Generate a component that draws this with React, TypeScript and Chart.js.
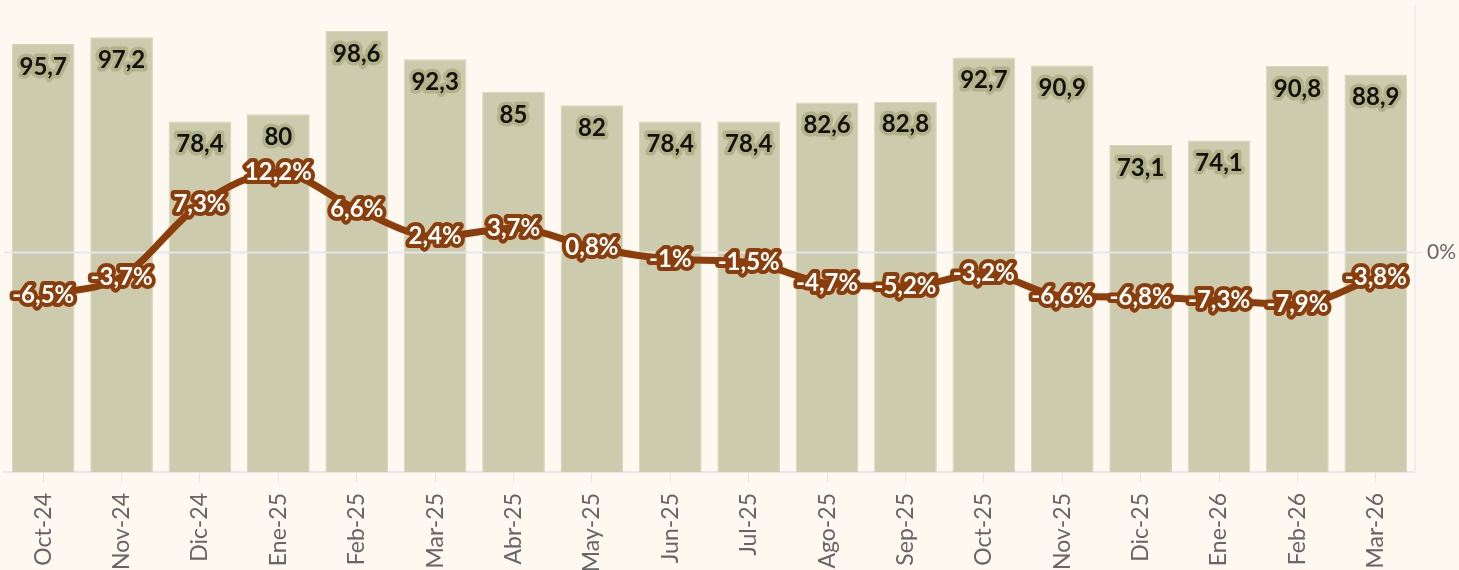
import { useEffect, useRef } from 'react';
import { Chart, registerables } from 'chart.js';

Chart.register(...registerables);

const categories = ['Oct-24', 'Nov-24', 'Dic-24', 'Ene-25', 'Feb-25', 'Mar-25', 'Abr-25', 'May-25', 'Jun-25', 'Jul-25', 'Ago-25', 'Sep-25', 'Oct-25', 'Nov-25', 'Dic-25', 'Ene-26', 'Feb-26', 'Mar-26'];
const barValues = [95.7, 97.2, 78.4, 80, 98.6, 92.3, 85, 82, 78.4, 78.4, 82.6, 82.8, 92.7, 90.9, 73.1, 74.1, 90.8, 88.9];
const pctValues = [-6.5, -3.7, 7.3, 12.2, 6.6, 2.4, 3.7, 0.8, -1, -1.5, -4.7, -5.2, -3.2, -6.6, -6.8, -7.3, -7.9, -3.8];
const rightTickLabels = ['0%'];

const fmt = (v: number) => String(v).replace('.', ',');

const W = 1480;
const H = 640;
const FONT = 'Lato, "Noto Sans", sans-serif';

export default function App() {
  const ref = useRef<HTMLCanvasElement>(null);

  useEffect(() => {
    if (!ref.current) return;
    const labelPlugin = {
      id: 'customLabels',
      afterDatasetDraw(chart: any, args: any) {
        if (args.index === 0) {
          const ctx = chart.ctx;
          const yy = chart.scales.y1.getPixelForValue(0);
          ctx.save();
          ctx.strokeStyle = 'rgba(228,230,240,0.95)';
          ctx.lineWidth = 2;
          ctx.beginPath();
          ctx.moveTo(chart.chartArea.left, yy);
          ctx.lineTo(chart.chartArea.right, yy);
          ctx.stroke();
          ctx.restore();
        }
      },
      afterDatasetsDraw(chart: any) {
        const ctx = chart.ctx;
        ctx.save();
        ctx.font = `bold 24px ${FONT}`;
        ctx.textAlign = 'center';
        ctx.textBaseline = 'middle';
        ctx.lineJoin = 'round';
        const barMeta = chart.getDatasetMeta(0);
        barMeta.data.forEach((el: any, i: number) => {
          const t = fmt(barValues[i]);
          const x = el.x;
          const y = el.y + 23;
          ctx.lineWidth = 7;
          ctx.strokeStyle = 'rgba(176,176,134,0.9)';
          ctx.strokeText(t, x, y);
          ctx.fillStyle = '#111';
          ctx.fillText(t, x, y);
        });
        const lineMeta = chart.getDatasetMeta(1);
        lineMeta.data.forEach((el: any, i: number) => {
          const t = fmt(pctValues[i]) + '%';
          const x = el.x;
          const y = el.y;
          ctx.lineWidth = 8;
          ctx.strokeStyle = '#8b3e0c';
          ctx.strokeText(t, x, y);
          ctx.fillStyle = '#ffffff';
          ctx.fillText(t, x, y);
        });
        ctx.restore();
      },
    };

    const chart = new Chart(ref.current, {
      type: 'bar',
      data: {
        labels: categories,
        datasets: [
          {
            type: 'bar',
            data: barValues,
            backgroundColor: '#cccbad',
            borderColor: '#d6d5ba',
            borderWidth: 1,
            barPercentage: 0.8,
            categoryPercentage: 1,
            yAxisID: 'y',
            order: 1,
          },
          {
            type: 'line',
            data: pctValues,
            borderColor: '#8b3e0c',
            borderWidth: 7,
            pointRadius: 0,
            cubicInterpolationMode: 'monotone',
            yAxisID: 'y1',
            order: 0,
          },
        ] as any,
      },
      options: {
        responsive: false,
        animation: false,
        devicePixelRatio: 1,
        layout: { padding: { left: 4, top: 6, right: 0, bottom: 0 } },
        plugins: { legend: { display: false }, tooltip: { enabled: false } },
        scales: {
          x: {
            grid: { drawOnChartArea: false, drawTicks: true, tickLength: 10, color: '#e6e6e6', offset: false },
            border: { color: '#e8e8e8', width: 2 },
            ticks: {
              minRotation: 90,
              maxRotation: 90,
              autoSkip: false,
              color: '#666',
              font: { family: FONT, size: 23 },
              padding: 11,
            },
            afterFit(s: any) {
              s.height = H - 472;
              s.paddingLeft = 0;
              s.paddingRight = 0;
            },
          },
          y: {
            display: false,
            min: 0,
            max: 104.2,
            afterFit(s: any) {
              s.paddingTop = 0;
              s.paddingBottom = 0;
            },
          },
          y1: {
            position: 'right',
            min: -33.4,
            max: 37.5,
            afterBuildTicks(s: any) {
              s.ticks = [{ value: 0 }];
            },
            ticks: {
              callback: () => rightTickLabels[0],
              color: '#666',
              font: { family: FONT, size: 21 },
              padding: 4,
            },
            grid: { drawOnChartArea: false, drawTicks: true, tickLength: 8, color: '#e4e6ee' },
            border: { color: '#eeeeee', width: 2 },
            afterFit(s: any) {
              s.width = W - 1415;
              s.paddingTop = 0;
              s.paddingBottom = 0;
            },
          },
        },
      } as any,
      plugins: [labelPlugin],
    });
    return () => chart.destroy();
  }, []);

  return (
    <div style={{ position: 'fixed', left: 0, top: 0, width: 1459, height: 570, overflow: 'hidden', background: '#fdf9f1' }}>
      <canvas ref={ref} width={W} height={H} style={{ position: 'absolute', left: 0, top: 0, width: W, height: H }} />
    </div>
  );
}
